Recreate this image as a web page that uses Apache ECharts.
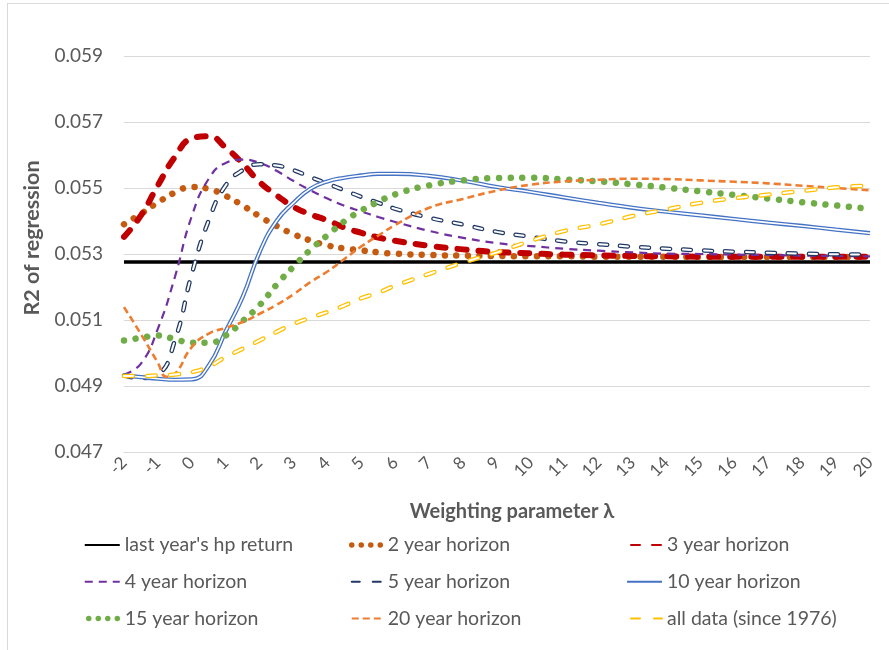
<!DOCTYPE html>
<html>
<head>
<meta charset="utf-8">
<script src="https://cdn.jsdelivr.net/npm/echarts@6/dist/echarts.min.js"></script>
<style>
html,body{margin:0;padding:0;background:#fff;}
#wrap{position:relative;width:889px;height:650px;overflow:hidden;}
#frame{position:absolute;left:7px;top:3px;width:900px;height:700px;border-top:1px solid #d9d9d9;border-left:1px solid #d9d9d9;}
#chart{position:absolute;left:0;top:0;width:889px;height:650px;}
</style>
</head>
<body>
<div id="wrap"><div id="frame"></div><div id="chart"></div></div>
<script>
// Weighting parameter lambda (x values)
const lambda = [-2,-1.5,-1,-0.75,-0.5,0,0.5,1,1.5,2,2.5,3,3.5,4,4.5,5,5.5,6,7,8,9,10,11,12,13,14,15,16,17,18,19,20];

const hpReturn = [0.05276,0.05276,0.05276,0.05276,0.05276,0.05276,0.05276,0.05276,0.05276,0.05276,0.05276,0.05276,0.05276,0.05276,0.05276,0.05276,0.05276,0.05276,0.05276,0.05276,0.05276,0.05276,0.05276,0.05276,0.05276,0.05276,0.05276,0.05276,0.05276,0.05276,0.05276,0.05276];
const h2 = [0.0539,0.05422,0.05456,null,0.05486,0.05503,0.05497,0.05476,0.05447,0.05414,0.05385,0.0536,0.05341,0.05326,0.05317,0.05311,0.05305,0.05301,0.05297,0.05295,0.05294,0.05293,0.05293,0.05292,0.05292,0.05292,0.05291,0.05291,0.05291,0.05291,0.05291,0.05291];
const h3 = [0.05352,0.05417,0.05508,null,0.05594,0.0565,0.05657,0.05622,0.05574,0.05518,0.05478,0.05443,0.0542,0.05402,0.0538,0.05364,0.0535,0.0534,0.05325,0.05314,0.05306,0.05302,0.05298,0.05296,0.05294,0.05293,0.05292,0.05292,0.05292,0.05292,0.05292,0.05292];
const h4 = [0.04935,0.04968,0.05074,null,0.0523,0.05415,0.05528,0.05576,0.05586,0.05576,0.05552,0.05521,0.05493,0.05468,0.05446,0.05429,0.05412,0.05397,0.0537,0.05349,0.05333,0.05324,0.05316,0.0531,0.05305,0.05301,0.053,0.05298,0.05297,0.05295,0.05294,0.05293];
const h5 = [0.04932,0.04924,0.04935,null,0.05038,0.0524,0.05402,0.05508,0.05554,0.05572,0.05568,0.05554,0.05533,0.05513,0.05493,0.05473,0.05455,0.05437,0.0541,0.05389,0.05367,0.05352,0.05338,0.0533,0.05322,0.05316,0.05311,0.05307,0.05304,0.05301,0.05299,0.05298];
const h10 = [0.04932,0.04927,0.04922,null,0.04919,0.0492,0.04962,0.05066,0.0517,0.05306,0.054,0.05455,0.05498,0.0552,0.05531,0.05538,0.05543,0.05543,0.05537,0.05522,0.05503,0.05488,0.05471,0.05455,0.0544,0.05428,0.05417,0.05406,0.05395,0.05385,0.05374,0.05363];
const h15 = [0.05038,0.05046,0.05053,null,0.05042,0.05031,0.05031,0.05053,0.05097,0.05145,0.05207,0.05262,0.05313,0.05357,0.05399,0.05432,0.05458,0.05481,0.05508,0.05523,0.0553,0.05531,0.05526,0.0552,0.05511,0.05501,0.0549,0.05479,0.05468,0.05457,0.05447,0.05437];
const h20 = [0.05139,0.05057,0.0497,0.04928,0.04937,0.05018,0.05059,0.05076,0.05094,0.05119,0.05146,0.05178,0.05215,0.05247,0.05285,0.05323,0.05356,0.05388,0.0544,0.05467,0.05492,0.0551,0.0552,0.05525,0.05528,0.05527,0.05523,0.05519,0.05514,0.05507,0.055,0.05493];
const allData = [0.0493,0.0493,0.04932,null,0.04935,0.04942,0.04959,0.04988,0.05013,0.05038,0.05064,0.05088,0.05107,0.05124,0.05144,0.05166,0.05183,0.05204,0.0524,0.05274,0.05305,0.0534,0.0537,0.0539,0.05415,0.05435,0.05455,0.05469,0.0548,0.05491,0.05502,0.05507];

const names = ["last year's hp return","2 year horizon","3 year horizon","4 year horizon","5 year horizon","10 year horizon","15 year horizon","20 year horizon","all data (since 1976)"];
const yTicks = {min:0.047, max:0.059, step:0.002};
const xTicks = {min:-2, max:20, step:1};

function pairs(vals){ return lambda.map((x,i)=>[x, vals[i]]); }

const FONT = 'Lato, "Open Sans", sans-serif';
const TXT = '#595959';

function line(name, vals, ls, extra){
  return Object.assign({
    name: name, type:'line', data: pairs(vals), smooth: 0.5, symbol:'none', showSymbol:false,
    connectNulls: true, animation:false, lineStyle: ls, emphasis:{disabled:true}
  }, extra||{});
}

const series = [
  line(names[0], hpReturn, {color:'#000000', width:3.5}),
  line(names[1], h2, {color:'#C55A11', width:6.5, type:[0.01,11.5], cap:'round'}),
  line(names[2], h3, {color:'#C00000', width:6, type:[9,12], cap:'round'}),
  line(names[3], h4, {color:'#7030A0', width:2.2, type:[8,6]}),
  line(names[4], h5, {color:'#203864', width:4.5, type:[8,13], cap:'round'}),
  line('', h5, {color:'#ffffff', width:2, type:[8,13], cap:'round'}, {silent:true}),
  line(names[5], h10, {color:'#4472C4', width:4.2}),
  line('', h10, {color:'#ffffff', width:1.6}, {silent:true}),
  line(names[6], h15, {color:'#70AD47', width:6.5, type:[0.01,11.7], cap:'round'}),
  line(names[7], h20, {color:'#ED7D31', width:2.6, type:[7,4]}),
  line(names[8], allData, {color:'#FFC000', width:4.5, type:[9,14], cap:'round'}),
  line('', allData, {color:'#ffffff', width:2, type:[9,14], cap:'round'}, {silent:true})
];

const dotIcon = {width:5.5, type:[0.01,9.5], cap:'round', dashOffset:-4};

function legendCol(left, items){
  return {
    orient:'vertical', left:left, top:530, itemWidth:35, itemHeight:18, itemGap:16.8,
    data: items, selectedMode:false, itemStyle:{opacity:0},
    textStyle:{fontFamily:FONT, fontSize:19.5, color:TXT, lineHeight:19.5}
  };
}

const chart = echarts.init(document.getElementById('chart'), null, {renderer:'canvas'});
chart.setOption({
  backgroundColor:'transparent',
  animation:false,
  grid:{left:124, right:19, top:56, bottom:198, containLabel:false},
  xAxis:{
    type:'value', min:xTicks.min, max:xTicks.max, interval:xTicks.step,
    axisLine:{show:true, lineStyle:{color:'#d9d9d9', width:1}},
    axisTick:{show:false}, splitLine:{show:false},
    axisLabel:{rotate:45, fontFamily:FONT, fontSize:17, color:TXT, margin:8},
    name:'Weighting parameter λ', nameLocation:'middle', nameGap:50,
    nameTextStyle:{fontFamily:FONT, fontSize:20, fontWeight:'bold', color:TXT, padding:[0,0,0,30]}
  },
  yAxis:{
    type:'value', min:yTicks.min, max:yTicks.max, interval:yTicks.step,
    axisLine:{show:false}, axisTick:{show:false},
    splitLine:{show:true, lineStyle:{color:'#d9d9d9', width:1}},
    axisLabel:{fontFamily:FONT, fontSize:19, color:TXT, margin:21,
      formatter:v=>v.toFixed(3)},
    name:'R2 of regression', nameLocation:'middle', nameGap:74,
    nameTextStyle:{fontFamily:FONT, fontSize:21.5, fontWeight:'bold', color:TXT, padding:[0,0,0,32]}
  },
  legend:[
    legendCol(77, [names[0], names[3], {name:names[6], lineStyle:dotIcon}]),
    legendCol(340, [{name:names[1], lineStyle:dotIcon}, names[4], names[7]]),
    legendCol(621, [names[2], names[5], names[8]])
  ],
  series: series
});
</script>
</body>
</html>
